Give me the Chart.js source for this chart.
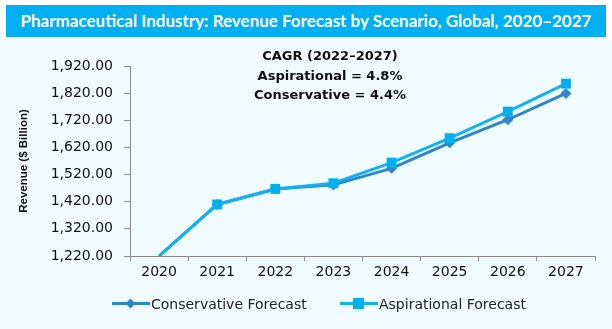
<!DOCTYPE html>
<html>
<head>
<meta charset="utf-8">
<script src="https://cdn.jsdelivr.net/npm/chart.js@4.4.1/dist/chart.umd.min.js"></script>
<style>
  html, body { margin: 0; padding: 0; background: #ffffff; }
  #wrap { position: relative; width: 612px; height: 329px; overflow: hidden; }
  #titleBar {
    position: absolute; left: 6px; top: 5px; width: 600px; height: 32px;
    background: #00b0f0; color: #fff;
    font: 700 17px "Lato", sans-serif; line-height: 32px; text-align: center;
  }
  #panel { position: absolute; left: 0; top: 40px; width: 612px; height: 289px; background: #f0fbfe; }
  #chartBox { position: absolute; left: 0; top: 0; width: 612px; height: 289px; }
  #cagr {
    position: absolute; left: 230px; top: 6px; width: 200px; text-align: center;
    font: 700 13px "DejaVu Sans", sans-serif; color: #111; line-height: 19.5px;
  }
  #legend {
    position: absolute; left: 0; top: 254px; width: 612px; height: 20px;
    font: 14px "DejaVu Sans", sans-serif; color: #222;
  }
  .item { position: absolute; top: 0; height: 20px; line-height: 20px; white-space: nowrap; }
  .line { position: absolute; top: 8px; width: 38px; height: 3px; }
  .mk { position: absolute; }
  .txt { position: absolute; top: 0; }
</style>
</head>
<body>
<div id="wrap">
  <div id="titleBar">Pharmaceutical Industry: Revenue Forecast by Scenario, Global, 2020–2027</div>
  <div id="panel">
    <div id="chartBox"><canvas id="c" width="612" height="289"></canvas></div>
    <div id="cagr">CAGR (2022–2027)<br>Aspirational = 4.8%<br>Conservative = 4.4%</div>
    <div id="legend"></div>
  </div>
</div>
<script>
// data
const years = ["2020", "2021", "2022", "2023", "2024", "2025", "2026", "2027"];
const conservative = [1220, 1410, 1467, 1482, 1543, 1637, 1722, 1819];
const aspirational = [1220, 1410, 1467, 1488, 1564, 1654, 1752, 1855];
const yMin = 1220, yMax = 1920, yStep = 100;

const CONS_COLOR = "#2e86c8";
const ASP_COLOR = "#14b2ec";
const ASP_MARK = "#00b0f0";

function fmtTick(v) {
  return Number(v).toLocaleString("en-US", { minimumFractionDigits: 2, maximumFractionDigits: 2 });
}

// hide marker at the first (axis) point, like the original
const hideFirst = (r) => (ctx) => (ctx.dataIndex === 0 ? 0 : r);

new Chart(document.getElementById("c").getContext("2d"), {
  type: "line",
  data: {
    labels: years,
    datasets: [
      {
        label: "Aspirational Forecast",
        data: aspirational,
        borderColor: ASP_COLOR,
        backgroundColor: ASP_MARK,
        borderWidth: 3,
        pointStyle: "rect",
        pointRadius: hideFirst(7),
        pointBorderWidth: 0,
        order: 1,
      },
      {
        label: "Conservative Forecast",
        data: conservative,
        borderColor: CONS_COLOR,
        backgroundColor: CONS_COLOR,
        borderWidth: 3,
        pointStyle: "rectRot",
        pointRadius: hideFirst(5.5),
        pointBorderWidth: 0,
        order: 2,
      },
    ],
  },
  options: {
    responsive: false,
    animation: false,
    layout: { padding: { left: 0, top: 26, right: 17, bottom: 43 } },
    plugins: { legend: { display: false }, tooltip: { enabled: false } },
    scales: {
      x: {
        offset: true,
        grid: { offset: true, drawOnChartArea: false, tickLength: 5, color: "#8c8c8c" },
        border: { color: "#8c8c8c", width: 1 },
        ticks: { color: "#111", font: { family: "DejaVu Sans", size: 14 }, padding: 3, maxRotation: 0 },
        afterFit: (s) => { s.height = 30; },
      },
      y: {
        min: yMin,
        max: yMax,
        grid: { drawOnChartArea: false, tickLength: 6, color: "#8c8c8c" },
        border: { color: "#8c8c8c", width: 1 },
        ticks: {
          stepSize: yStep,
          color: "#111",
          font: { family: "DejaVu Sans", size: 14 },
          padding: 11,
          callback: (v) => fmtTick(v),
        },
        title: {
          display: true,
          text: "Revenue ($ Billion)",
          color: "#111",
          font: { family: "Liberation Sans", size: 11.5, weight: "bold" },
          padding: { top: 17, bottom: 0 },
        },
        afterFit: (s) => { s.width = 130; },
      },
    },
  },
});

// legend: line with marker in the middle, like the original
const legendItems = [
  { label: "Conservative Forecast", color: CONS_COLOR, mark: "diamond", x: 112 },
  { label: "Aspirational Forecast", color: ASP_COLOR, mark: "square", x: 340 },
];
const legendEl = document.getElementById("legend");
legendItems.forEach((it) => {
  const d = document.createElement("div");
  d.className = "item";
  d.style.left = it.x + "px";
  const ln = document.createElement("div");
  ln.className = "line";
  ln.style.left = "0px";
  ln.style.background = it.color;
  d.appendChild(ln);
  const mk = document.createElement("div");
  mk.className = "mk";
  if (it.mark === "diamond") {
    mk.style.cssText = "left:15px;top:6px;width:7px;height:7px;transform:rotate(45deg);background:" + it.color;
  } else {
    mk.style.cssText = "left:13px;top:4px;width:11px;height:11px;background:" + ASP_MARK;
  }
  d.appendChild(mk);
  const t = document.createElement("div");
  t.className = "txt";
  t.style.left = "39px";
  t.textContent = it.label;
  d.appendChild(t);
  legendEl.appendChild(d);
});
</script>
</body>
</html>
